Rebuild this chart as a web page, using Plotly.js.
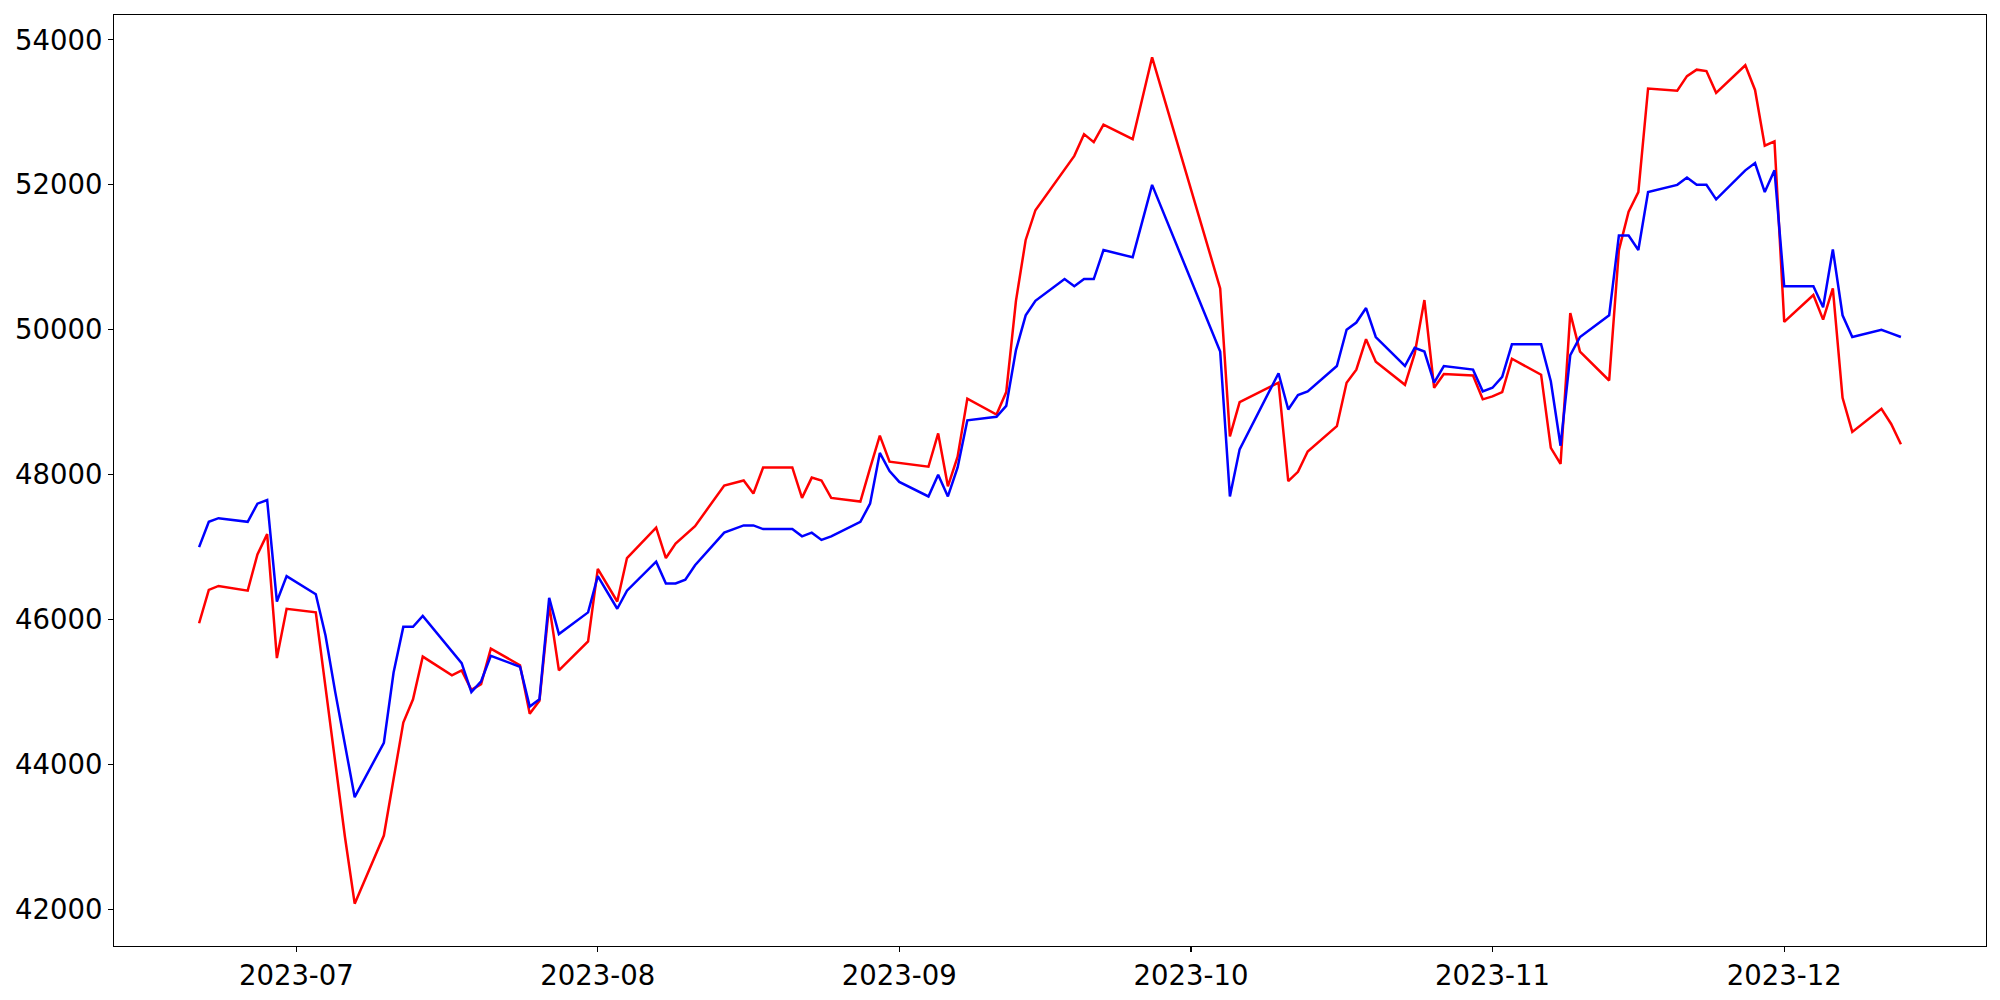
<!DOCTYPE html>
<html>
<head>
<meta charset="utf-8">
<script src="https://cdn.plot.ly/plotly-3.0.1.min.js"></script>
<style>
  html, body { margin: 0; padding: 0; background: #ffffff; }
  #chart { width: 2000px; height: 1000px; }
</style>
</head>
<body>
<div id="chart"></div>
<script>
// Trading dates
const dates = [
  '2023-06-21','2023-06-22','2023-06-23','2023-06-26','2023-06-27','2023-06-28','2023-06-29','2023-06-30',
  '2023-07-03','2023-07-04','2023-07-05','2023-07-06','2023-07-07','2023-07-10','2023-07-11','2023-07-12',
  '2023-07-13','2023-07-14','2023-07-17','2023-07-18','2023-07-19','2023-07-20','2023-07-21','2023-07-24',
  '2023-07-25','2023-07-26','2023-07-27','2023-07-28','2023-07-31',
  '2023-08-01','2023-08-03','2023-08-04','2023-08-07','2023-08-08','2023-08-09','2023-08-10','2023-08-11',
  '2023-08-14','2023-08-16','2023-08-17','2023-08-18','2023-08-21','2023-08-22','2023-08-23','2023-08-24',
  '2023-08-25','2023-08-28','2023-08-29','2023-08-30','2023-08-31',
  '2023-09-01','2023-09-04','2023-09-05','2023-09-06','2023-09-07','2023-09-08','2023-09-11','2023-09-12',
  '2023-09-13','2023-09-14','2023-09-15','2023-09-18','2023-09-19','2023-09-20','2023-09-21','2023-09-22',
  '2023-09-25','2023-09-27',
  '2023-10-04','2023-10-05','2023-10-06','2023-10-10','2023-10-11','2023-10-12','2023-10-13','2023-10-16',
  '2023-10-17','2023-10-18','2023-10-19','2023-10-20','2023-10-23','2023-10-24','2023-10-25','2023-10-26',
  '2023-10-27','2023-10-30','2023-10-31',
  '2023-11-01','2023-11-02','2023-11-03','2023-11-06','2023-11-07','2023-11-08','2023-11-09','2023-11-10',
  '2023-11-13','2023-11-14','2023-11-15','2023-11-16','2023-11-17','2023-11-20','2023-11-21','2023-11-22',
  '2023-11-23','2023-11-24','2023-11-27','2023-11-28','2023-11-29','2023-11-30',
  '2023-12-01','2023-12-04','2023-12-05','2023-12-06','2023-12-07','2023-12-08','2023-12-11','2023-12-12',
  '2023-12-13'
];

// Red series
const redValues = [
  45950,46410,46465,46400,46900,47180,45470,46150,
  46100,45050,44000,43000,42080,43020,43800,44580,
  44900,45490,45230,45300,45030,45110,45600,45370,
  44700,44880,46200,45300,45700,
  46700,46250,46850,47270,46850,47050,47170,47290,
  47850,47920,47740,48100,48100,47680,47960,47920,
  47680,47630,48090,48540,48180,
  48160,48110,48570,47840,48250,49050,48830,49140,
  50400,51240,51650,52200,52400,52700,52590,52830,
  52630,53760,
  50570,48530,49000,49270,47910,48040,48320,48670,
  49270,49450,49870,49560,49240,49670,50410,49200,
  49390,49370,49040,
  49080,49140,49600,49380,48370,48150,50230,49700,
  49300,51100,51630,51900,53330,53300,53500,53590,
  53570,53270,53650,53310,52540,52600,
  50110,50480,50140,50570,49060,48590,48910,48700,
  48420
];

// Blue series
const blueValues = [
  47000,47350,47400,47350,47600,47650,46250,46600,
  46350,45780,45000,44280,43550,44300,45270,45900,
  45900,46050,45570,45400,45000,45150,45500,45350,
  44800,44900,46300,45800,46100,
  46600,46150,46400,46800,46500,46500,46550,46750,
  47200,47300,47300,47250,47250,47150,47200,47100,
  47150,47350,47600,48300,48050,
  47900,47700,48000,47700,48100,48750,48800,48950,
  49720,50200,50400,50700,50600,50700,50700,51100,
  51000,52000,
  49700,47700,48350,49400,48900,49100,49150,49500,
  50000,50100,50300,49900,49500,49750,49700,49270,
  49500,49450,49150,
  49200,49350,49800,49800,49290,48400,49650,49900,
  50200,51300,51300,51100,51900,52000,52100,52000,
  52000,51800,52200,52300,51900,52200,
  50600,50600,50310,51110,50200,49900,50000,49950,
  49900
];

const yTickVals = [42000, 44000, 46000, 48000, 50000, 52000, 54000];
const xTickVals = ['2023-07-01','2023-08-01','2023-09-01','2023-10-01','2023-11-01','2023-12-01'];
const xTickText = ['2023-07','2023-08','2023-09','2023-10','2023-11','2023-12'];

// 5% padding like matplotlib autoscale
const t0 = new Date(dates[0] + 'T00:00:00Z').getTime();
const t1 = new Date(dates[dates.length - 1] + 'T00:00:00Z').getTime();
const tp = (t1 - t0) * 0.05;
const fmt = t => new Date(t).toISOString().replace('T', ' ').slice(0, 19);
const allV = redValues.concat(blueValues);
const vMin = Math.min(...allV), vMax = Math.max(...allV);
const vp = (vMax - vMin) * 0.05;

const traces = [
  { x: dates, y: redValues, type: 'scatter', mode: 'lines',
    line: { color: '#ff0000', width: 2.5 }, showlegend: false, hoverinfo: 'x+y' },
  { x: dates, y: blueValues, type: 'scatter', mode: 'lines',
    line: { color: '#0000ff', width: 2.5 }, showlegend: false, hoverinfo: 'x+y' }
];

const axisFont = { family: 'DejaVu Sans, sans-serif', size: 27.5, color: '#000000' };

const layout = {
  width: 2000, height: 1000,
  paper_bgcolor: '#ffffff', plot_bgcolor: '#ffffff',
  margin: { l: 114, r: 14, t: 15, b: 54, pad: 0 },
  showlegend: false,
  xaxis: {
    type: 'date',
    range: [fmt(t0 - tp), fmt(t1 + tp)],
    tickmode: 'array', tickvals: xTickVals, ticktext: xTickText,
    ticks: 'outside', ticklen: 5, tickwidth: 1.1, tickcolor: '#000000',
    showline: true, linecolor: '#000000', linewidth: 1.1, mirror: true,
    showgrid: false, zeroline: false,
    tickfont: axisFont
  },
  yaxis: {
    range: [vMin - vp, vMax + vp],
    tickmode: 'array', tickvals: yTickVals, ticktext: yTickVals.map(String),
    ticks: 'outside', ticklen: 5, tickwidth: 1.1, tickcolor: '#000000',
    showline: true, linecolor: '#000000', linewidth: 1.1, mirror: true,
    showgrid: false, zeroline: false,
    tickfont: axisFont
  }
};

Plotly.newPlot('chart', traces, layout, { staticPlot: true, displayModeBar: false });
</script>
</body>
</html>
